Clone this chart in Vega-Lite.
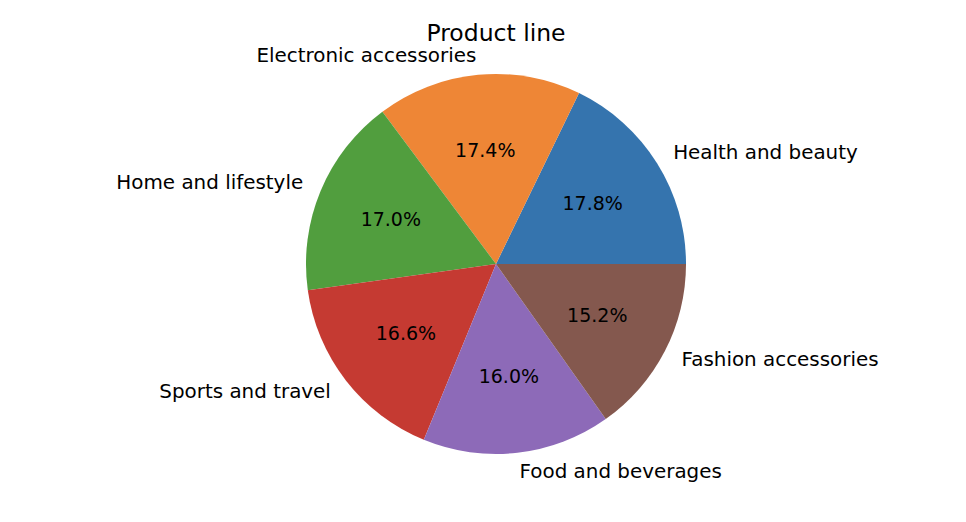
{
  "$schema": "https://vega.github.io/schema/vega-lite/v6.json",
  "autosize": "none",
  "width": 380,
  "height": 380,
  "padding": {"left": 306, "top": 74, "right": 280, "bottom": 68},
  "background": "white",
  "config": {"view": {"stroke": null}},
  "title": {
    "text": "Product line",
    "font": "DejaVu Sans",
    "fontSize": 23.5,
    "fontWeight": "normal",
    "color": "#000000",
    "offset": 0,
    "anchor": "middle"
  },
  "data": {
    "values": [
      {"product": "Health and beauty", "count": 178, "pct": "17.8%"},
      {"product": "Electronic accessories", "count": 174, "pct": "17.4%"},
      {"product": "Home and lifestyle", "count": 170, "pct": "17.0%"},
      {"product": "Sports and travel", "count": 166, "pct": "16.6%"},
      {"product": "Food and beverages", "count": 160, "pct": "16.0%"},
      {"product": "Fashion accessories", "count": 152, "pct": "15.2%"}
    ]
  },
  "encoding": {
    "theta": {
      "field": "count",
      "type": "quantitative",
      "stack": true,
      "scale": {"range": [1.5707963, -4.712389], "nice": false}
    },
    "order": {"field": "count", "sort": "descending"}
  },
  "layer": [
    {
      "mark": {"type": "arc", "radius": 190, "stroke": null},
      "encoding": {
        "color": {
          "field": "product",
          "type": "nominal",
          "legend": null,
          "scale": {
            "domain": ["Health and beauty", "Electronic accessories", "Home and lifestyle", "Sports and travel", "Food and beverages", "Fashion accessories"],
            "range": ["#3574ae", "#ee8636", "#519e3e", "#c53a32", "#8d6ab8", "#84584e"]
          }
        }
      }
    },
    {
      "mark": {
        "type": "text",
        "radius": 209,
        "font": "DejaVu Sans",
        "fontSize": 19.9,
        "color": "#000000",
        "baseline": "middle",
        "align": {"expr": "indexof(['Health and beauty','Food and beverages','Fashion accessories'], datum.product) >= 0 ? 'left' : 'right'"}
      },
      "encoding": {"text": {"field": "product"}}
    },
    {
      "mark": {
        "type": "text",
        "radius": 114,
        "font": "DejaVu Sans",
        "fontSize": 19,
        "color": "#000000",
        "baseline": "middle",
        "align": "center"
      },
      "encoding": {"text": {"field": "pct"}}
    }
  ]
}
